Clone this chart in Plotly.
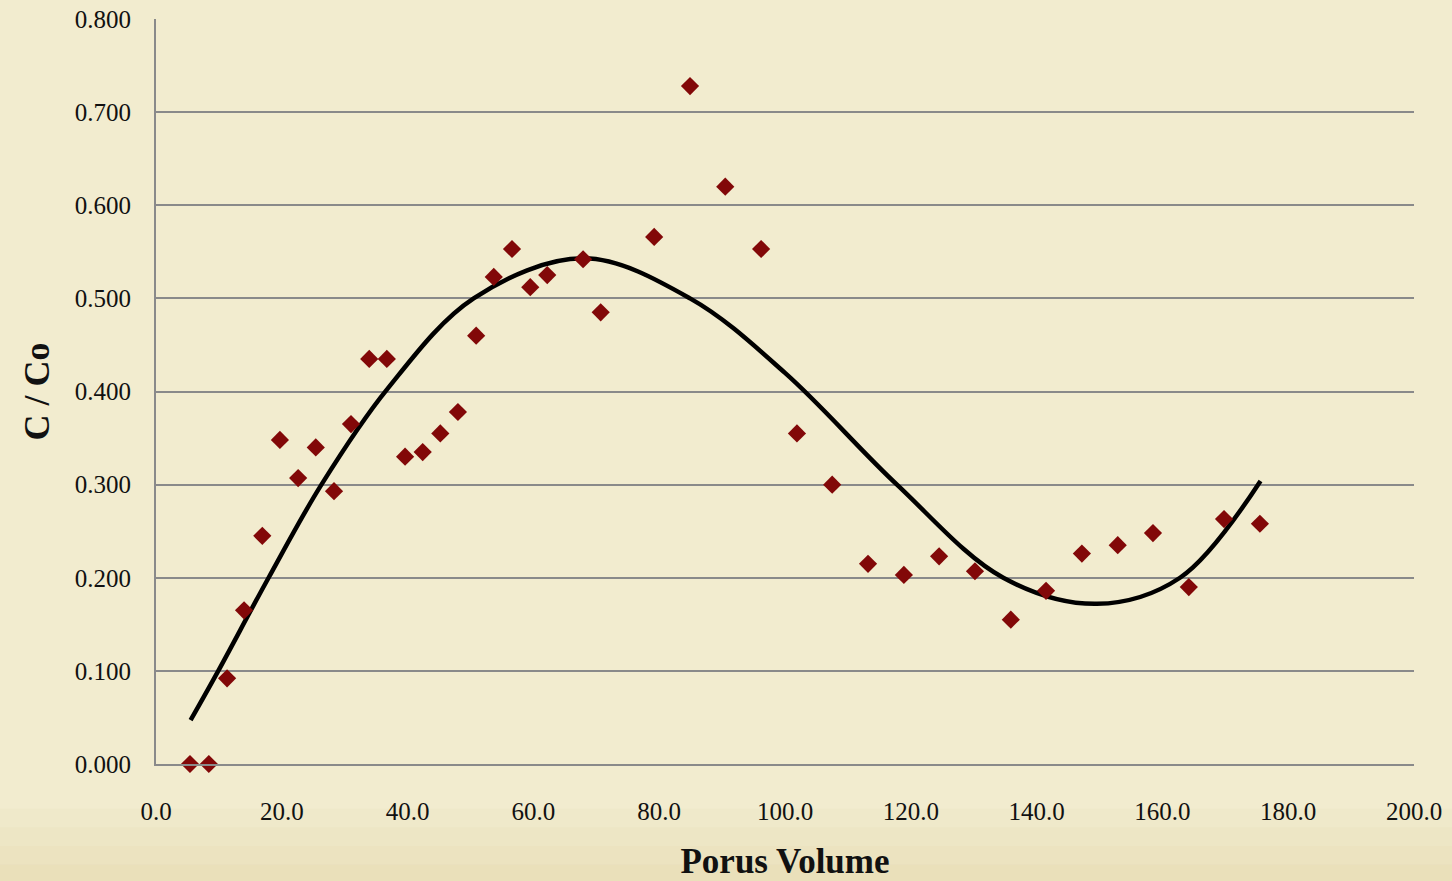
import plotly.graph_objects as go

# measured data points
porus_volume = [5.4, 8.4, 11.3, 14.0, 16.9, 19.7, 22.6, 25.4, 28.3, 31.0,
                33.9, 36.7, 39.6, 42.4, 45.2, 48.0, 50.9, 53.7, 56.6, 59.5,
                62.2, 67.9, 70.7, 79.2, 84.9, 90.5, 96.2, 101.9, 107.5, 113.2,
                118.9, 124.5, 130.2, 135.9, 141.5, 147.2, 152.9, 158.5, 164.2,
                169.8, 175.5]
c_over_co = [0.000, 0.000, 0.092, 0.165, 0.245, 0.348, 0.307, 0.340, 0.293, 0.365,
             0.435, 0.435, 0.330, 0.335, 0.355, 0.378, 0.460, 0.523, 0.553, 0.512,
             0.525, 0.542, 0.485, 0.566, 0.728, 0.620, 0.553, 0.355, 0.300, 0.215,
             0.203, 0.223, 0.207, 0.155, 0.186, 0.226, 0.235, 0.248, 0.190,
             0.263, 0.258]

# polynomial trendline (knots where it crosses gridlines / turns)
trend_x = [5.5, 9.9, 17.9, 26.3, 36.7, 50.5, 68.0, 84.9, 100.0, 117.8, 134.7,
           149.6, 162.8, 175.6]
trend_y = [0.047, 0.100, 0.200, 0.300, 0.402, 0.500, 0.543, 0.500, 0.420, 0.300,
           0.200, 0.172, 0.200, 0.304]

x_ticks = [0, 20, 40, 60, 80, 100, 120, 140, 160, 180, 200]
y_ticks = [0.0, 0.1, 0.2, 0.3, 0.4, 0.5, 0.6, 0.7, 0.8]

font_family = "Liberation Serif, DejaVu Serif, serif"
bg = "#F2ECCF"
grid = "#8A8A8A"

fig = go.Figure()
fig.add_trace(go.Scatter(x=trend_x, y=trend_y, mode="lines",
                         line=dict(color="black", width=4.5, shape="spline", smoothing=1.0),
                         showlegend=False))
fig.add_trace(go.Scatter(x=porus_volume, y=c_over_co, mode="markers",
                         cliponaxis=False,
                         marker=dict(symbol="diamond", size=14, color="#820808",
                                     line=dict(width=0)),
                         showlegend=False))

# subtle darker parchment band at the bottom
bands = [(-0.16, -0.135, 0.30), (-0.135, -0.11, 0.22), (-0.11, -0.085, 0.14), (-0.085, -0.06, 0.07)]
shapes = [dict(type="rect", xref="paper", yref="paper", x0=-0.13, x1=1.04, y0=a, y1=b,
               fillcolor=f"rgba(214,196,140,{o})", line=dict(width=0), layer="below")
          for a, b, o in bands]

fig.update_layout(
    template="none",
    width=1452, height=881,
    margin=dict(l=156, r=38, t=19, b=117, pad=0),
    paper_bgcolor=bg,
    plot_bgcolor="rgba(0,0,0,0)",
    font=dict(family=font_family, color="#111111", size=25),
    showlegend=False,
    hovermode="closest",
    shapes=shapes,
    xaxis=dict(range=[0, 200], tickvals=x_ticks, automargin=False,
               ticktext=[f"{v:.1f}" for v in x_ticks],
               showgrid=False, zeroline=False,
               showline=True, linecolor=grid, linewidth=2,
               ticks="", ticklabelstandoff=24,
               title=dict(text="<b>Porus Volume</b>", font=dict(size=35), standoff=31)),
    yaxis=dict(range=[0, 0.8], tickvals=y_ticks, automargin=False,
               ticktext=[f"{v:.3f}" for v in y_ticks],
               showgrid=True, gridcolor=grid, gridwidth=2,
               zeroline=False, showline=True, linecolor=grid, linewidth=2,
               ticks="", ticklabelstandoff=18,
               title=dict(text="<b>C / Co</b>", font=dict(size=36), standoff=14)),
)

fig.write_html("out.html", config={"displayModeBar": False},
               post_script=f"document.body.style.margin='0';document.body.style.background='{bg}';")
